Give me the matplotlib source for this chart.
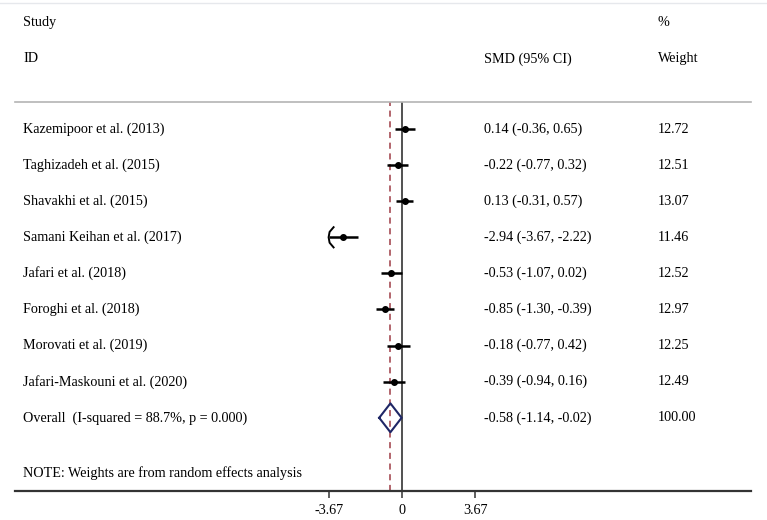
import matplotlib
matplotlib.use("Agg")
import matplotlib.pyplot as plt
from matplotlib.lines import Line2D
from matplotlib.transforms import blended_transform_factory

# Forest plot data (SMD, 95% CI, % weight)
studies = ["Kazemipoor et al. (2013)", "Taghizadeh et al. (2015)",
           "Shavakhi et al. (2015)", "Samani Keihan et al. (2017)",
           "Jafari et al. (2018)", "Foroghi et al. (2018)",
           "Morovati et al. (2019)", "Jafari-Maskouni et al. (2020)"]
smd = [0.14, -0.22, 0.13, -2.94, -0.53, -0.85, -0.18, -0.39]
lo = [-0.36, -0.77, -0.31, -3.67, -1.07, -1.30, -0.77, -0.94]
hi = [0.65, 0.32, 0.57, -2.22, 0.02, -0.39, 0.42, 0.16]
weights = [12.72, 12.51, 13.07, 11.46, 12.52, 12.97, 12.25, 12.49]

overall_label = "Overall  (I-squared = 88.7%, p = 0.000)"
overall = -0.58
overall_lo = -1.14
overall_hi = -0.02
overall_weight = 100.00

xticks = [-3.67, 0, 3.67]
xclip = -3.67  # display limit, CIs beyond get an arrow

plt.rcParams['font.family'] = ['Liberation Serif', 'DejaVu Serif']
plt.rcParams['font.size'] = 10.2

fig = plt.figure(figsize=(7.67, 5.20), dpi=100)
ax = fig.add_axes([15 / 767, 29 / 520, 736 / 767, 389 / 520])
ax.set_xlim(-19.35, 17.45)
ax.set_ylim(11.028, 0.252)

for s in ['left', 'right']:
    ax.spines[s].set_visible(False)
ax.spines['top'].set_color('#b4b4b4')
ax.spines['top'].set_linewidth(1.2)
ax.spines['bottom'].set_color('#333333')
ax.spines['bottom'].set_linewidth(1.6)
ax.set_yticks([])
ax.set_xticks(xticks, ['-3.67', '0', '3.67'])
ax.tick_params(axis='x', direction='out', length=5, width=1.1, color='#333333',
               pad=4, labelcolor='black')

# reference lines
ax.axvline(0, color='#222222', lw=1.1)
ax.axvline(overall, color='#9e3c45', lw=1.1, ls=(0, (4, 3)))

rows = list(range(1, len(studies) + 1))
for y, m, l, h in zip(rows, smd, lo, hi):
    ax.plot([max(l, xclip), h], [y, y], color='black', lw=1.8, solid_capstyle='butt')
    ax.plot(m, y, 'o', color='black', ms=4)
    if l <= xclip:
        # arrow marking truncated CI
        ax.plot([xclip + 0.25, xclip + 0.05, xclip, xclip + 0.05, xclip + 0.25],
                [y - 0.28, y - 0.15, y, y + 0.15, y + 0.28], color='black', lw=1.4)

# pooled estimate diamond
yo = len(studies) + 1
ax.plot([overall_lo, overall, overall_hi, overall, overall_lo],
        [yo, yo - 0.4, yo, yo + 0.4, yo], color='#1f2766', lw=1.5)

# text columns
tr = blended_transform_factory(fig.transFigure, ax.transData)
xs, xc, xw = 23 / 767, 484 / 767, 658 / 767
kw = dict(transform=tr, va='center', clip_on=False, color='black')
ax.text(xs, -1.96, "Study", **kw)
ax.text(xw, -1.96, "%", **kw)
ax.text(xs, -0.94, "ID", **kw)
ax.text(xc, -0.94, "SMD (95% CI)", **kw)
ax.text(xw, -0.94, "Weight", **kw)
for y, name, m, l, h, w in zip(rows, studies, smd, lo, hi, weights):
    ax.text(xs, y, name, **kw)
    ax.text(xc, y, f"{m:.2f} ({l:.2f}, {h:.2f})", **kw)
    ax.text(xw, y, f"{w:.2f}", **kw)
ax.text(xs, yo, overall_label, **kw)
ax.text(xc, yo, f"{overall:.2f} ({overall_lo:.2f}, {overall_hi:.2f})", **kw)
ax.text(xw, yo, f"{overall_weight:.2f}", **kw)
ax.text(xs, 10.53, "NOTE: Weights are from random effects analysis", **kw)

# faint frame line at the very top
fig.add_artist(Line2D([0, 1], [1 - 3 / 520, 1 - 3 / 520], transform=fig.transFigure,
                      color='#e6e8ec', lw=1))

fig.savefig("out.png", dpi=100)
